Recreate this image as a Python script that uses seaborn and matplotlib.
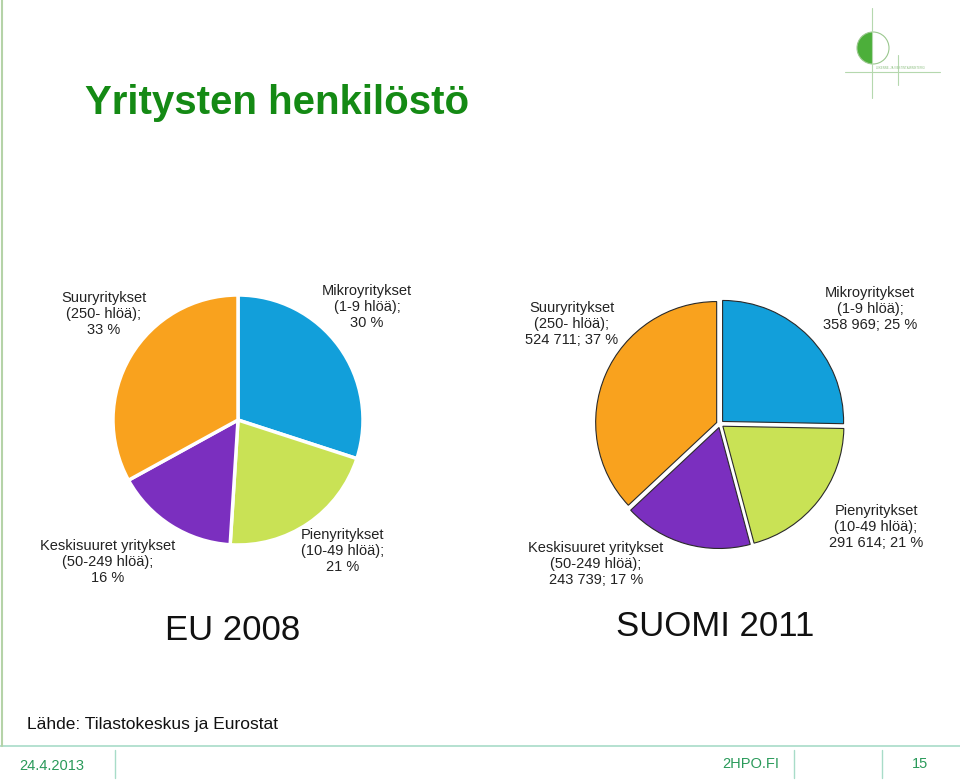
import matplotlib
matplotlib.use("Agg")
import matplotlib.pyplot as plt
import seaborn as sns
from matplotlib.patches import Wedge, Circle
from matplotlib.lines import Line2D

sns.set_theme(style="white")
plt.rcParams['font.family'] = ['Liberation Sans', 'DejaVu Sans']

# ---- data ----
categories = ["Mikroyritykset", "Pienyritykset", "Keskisuuret yritykset", "Suuryritykset"]
size_labels = ["(1-9 hlöä);", "(10-49 hlöä);", "(50-249 hlöä);", "(250- hlöä);"]
eu_pct = [30, 21, 16, 33]
fi_counts = [358969, 291614, 243739, 524711]
colors = sns.color_palette(["#129fda", "#c9e255", "#7b2fbf", "#f9a21e"])

W, H = 960, 780
fig = plt.figure(figsize=(W / 100, H / 100), dpi=100)
fig.patch.set_facecolor("white")


def px_axes(cx, cy, r):
    half = r * 1.1
    ax = fig.add_axes([(cx - half) / W, 1 - (cy + half) / H, 2 * half / W, 2 * half / H])
    ax.axis("off")
    return ax


def fix_limits(ax):
    ax.set_xlim(-1.1, 1.1)
    ax.set_ylim(-1.1, 1.1)
    ax.set_aspect("equal")


def ftext(x, y, s, **kw):
    fig.text(x / W, 1 - y / H, s, **kw)


# EU pie
ax1 = px_axes(238, 420, 125)
ax1.pie(eu_pct, colors=colors, startangle=90, counterclock=False, radius=1,
        wedgeprops=dict(edgecolor="white", linewidth=2.5))
fix_limits(ax1)

# Suomi pie
ax2 = px_axes(720, 424, 121)
ax2.pie(fi_counts, colors=colors, startangle=90, counterclock=False, radius=1,
        explode=[0.03] * 4,
        wedgeprops=dict(edgecolor="#2a2a2a", linewidth=0.8))
fix_limits(ax2)

lab_kw = dict(ha="center", va="center", fontsize=10.5, color="#222222", linespacing=1.15)

# EU labels
eu_pos = [(367, 307), (343, 551), (108, 562), (104, 314)]
for (x, y), c, s, p in zip(eu_pos, categories, size_labels, eu_pct):
    ftext(x, y, f"{c}\n{s}\n{p} %", **lab_kw)

# Suomi labels
total = sum(fi_counts)
fi_pos = [(870, 309), (876, 527), (596, 564), (572, 324)]
for (x, y), c, s, v in zip(fi_pos, categories, size_labels, fi_counts):
    num = f"{v:,}".replace(",", " ")
    ftext(x, y, f"{c}\n{s}\n{num}; {round(v / total * 100)} %", **lab_kw)

# Title and headings
ftext(85, 103, "Yritysten henkilöstö", ha="left", va="center", fontsize=29,
      fontweight="bold", color="#148a14")
ftext(233, 630, "EU 2008", ha="center", va="center", fontsize=25, color="#111111")
ftext(715, 627, "SUOMI 2011", ha="center", va="center", fontsize=25, color="#111111")
ftext(27, 725, "Lähde: Tilastokeskus ja Eurostat", ha="left", va="center", fontsize=12.5,
      color="#111111")

# footer
line_c = "#a8dcc8"
fig.add_artist(Line2D([0, 1], [1 - 746 / H, 1 - 746 / H], color=line_c, lw=1.2))
for xs in (115, 794, 882):
    fig.add_artist(Line2D([xs / W, xs / W], [1 - 750 / H, 1 - 778 / H], color=line_c, lw=1))
fig.add_artist(Line2D([1.5 / W, 1.5 / W], [1, 1 - 746 / H], color="#b5d3a8", lw=1.5))
foot_kw = dict(va="center", fontsize=10.5, color="#2a9a5a")
ftext(19, 766, "24.4.2013", ha="left", **foot_kw)
ftext(751, 764, "2HPO.FI", ha="center", **foot_kw)
ftext(920, 764, "15", ha="center", **foot_kw)

# logo
lax = fig.add_axes([840 / W, 1 - 100 / H, 120 / W, 100 / H])
lax.set_xlim(840, 960)
lax.set_ylim(100, 0)
lax.set_aspect("equal")
lax.axis("off")
lax.add_patch(Wedge((873, 48), 16, 90, 270, facecolor="#4caf3a", edgecolor="none"))
lax.add_patch(Circle((873, 48), 16, facecolor="none", edgecolor="#9bc88f", lw=0.8))
lax.plot([872, 872], [8, 98], color="#b5d8ae", lw=0.8)
lax.plot([845, 940], [72, 72], color="#b5d8ae", lw=0.8)
lax.plot([898, 898], [55, 85], color="#b5d8ae", lw=0.8)
lax.text(876, 70, "LIIKENNE- JA VIESTINTÄMINISTERIÖ", fontsize=2, color="#8cbf80", va="bottom")

fig.savefig("out.png", dpi=100, facecolor="white")
